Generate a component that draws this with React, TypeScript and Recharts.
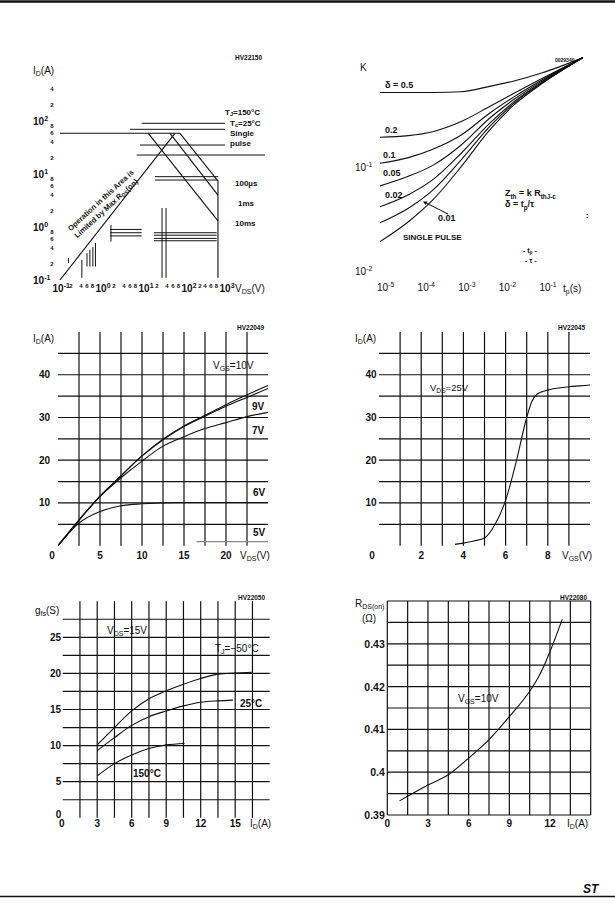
import React from 'react';
import { LineChart, Line, XAxis, YAxis, ReferenceLine } from 'recharts';

const FONT = '"Liberation Sans", Arial, Helvetica, sans-serif';
const INK = '#111';

// ---------- Safe operating area (HV22150), log-log
const soaMajorV = [0.1, 1, 10, 100, 1000];
const soaMinorV = [0.2, 0.4, 0.6, 0.8, 2, 4, 6, 8, 20, 40, 60, 80, 200, 400, 600, 800];
const soaMajorI = [0.1, 1, 10, 100];
const soaMinorI = [0.2, 0.4, 0.6, 0.8, 2, 4, 6, 8, 20, 40, 60, 80, 200, 400];
const soaIdmLine = [{ v: 0.127, i: 58.6 }, { v: 78.5, i: 58.6 }];
const soaRdsLine = [{ v: 0.127, i: 0.1 }, { v: 60, i: 58.6 }];
const soa100us = [{ v: 78.5, i: 58.6 }, { v: 600, i: 7.4 }, { v: 600, i: 0.11 }];
const soa1ms = [{ v: 46, i: 58.6 }, { v: 600, i: 4.0 }];
const soa10ms = [{ v: 14.4, i: 58.6 }, { v: 600, i: 1.3 }];
// broken grid pieces left over in the scan: [v1, v2, i] and [v, i1, i2]
const soaStubsH = [
  [10.1, 875, 90.5], [5.4, 875, 69.7], [9.2, 875, 35.2], [7.7, 7450, 22.8],
  [20.6, 611, 8.9], [20.6, 611, 7.7],
  [19.5, 560, 0.78], [19.5, 560, 0.7], [19.5, 560, 0.61], [19.5, 560, 0.55],
  [1.85, 10.1, 0.9], [1.85, 10.1, 0.78], [1.85, 10.1, 0.68],
];
const soaStubsV = [
  [30, 0.11, 2.28], [37.2, 0.11, 2.28], [1.95, 0.53, 1.09],
  [0.2, 0.21, 0.26], [0.41, 0.11, 0.24], [0.54, 0.18, 0.32], [0.63, 0.18, 0.37],
  [0.74, 0.18, 0.42], [0.85, 0.18, 0.5],
];

// ---------- Thermal impedance (K vs tp)
const zthTime = [1e-5, 5e-5, 2e-4, 1e-3, 5e-3, 2e-2, 0.1, 1];
const zthK05 = [0.54, 0.54, 0.54, 0.55, 0.62, 0.7, 0.84, 1.18];
const zthK02 = [0.199, 0.206, 0.225, 0.282, 0.395, 0.531, 0.742, 1.18];
const zthK01 = [0.111, 0.126, 0.152, 0.209, 0.34, 0.49, 0.718, 1.18];
const zthK005 = [0.067, 0.083, 0.106, 0.167, 0.304, 0.464, 0.7, 1.18];
const zthK002 = [0.042, 0.055, 0.077, 0.139, 0.271, 0.44, 0.683, 1.18];
const zthK001 = [0.0294, 0.0407, 0.061, 0.12, 0.252, 0.425, 0.673, 1.18];
const zthKsingle = [0.0193, 0.0301, 0.049, 0.103, 0.233, 0.409, 0.664, 1.18];

// ---------- Output characteristics (HV22049)
const outVds = [0, 2.5, 5, 7.5, 10, 12.5, 15, 17.5, 20, 22.5, 25];
const outId10 = [0, 6.0, 11.6, 16.4, 21.0, 24.9, 28.0, 30.5, 33.0, 35.3, 37.5];
const outId9 = [0, 6.0, 11.6, 16.3, 21.0, 24.8, 27.9, 30.3, 32.6, 34.7, 36.8];
const outId7 = [0, 6.0, 11.5, 15.9, 19.8, 23.3, 25.5, 27.4, 28.8, 30.2, 31.2];
const outId6 = [0, 5.3, 8.0, 9.35, 9.8, 10.0, 10.1, 10.1, 10.1, 10.1, 10.1];
const outVds5 = [16.5, 25];
const outId5 = [0.95, 0.95];
const outGridX = [2.5, 5, 7.5, 10, 12.5, 15, 17.5, 20, 22.5];
const outGridY = [5, 10, 15, 20, 25, 30, 35, 40, 45];

// ---------- Transfer characteristics (HV22045)
const trVgs = [3.6, 4, 4.5, 5, 5.5, 6, 6.5, 7, 7.25, 7.5, 8, 8.5, 9, 9.5, 10];
const trId = [0.3, 0.6, 1.1, 1.8, 5.0, 10.6, 19.6, 30.0, 33.8, 35.5, 36.4, 36.9, 37.2, 37.4, 37.6];
const trGridX = [1, 2, 3, 4, 5, 6, 7, 8, 9];
const trGridY = [5, 10, 15, 20, 25, 30, 35, 40, 45];

// ---------- Transconductance (HV22050)
const gfsIdM50 = [3, 4.5, 6, 7.5, 9, 10.5, 12, 13.5, 15, 16.5];
const gfsM50 = [10.1, 12.5, 14.8, 16.5, 17.6, 18.5, 19.3, 19.9, 20.05, 20.15];
const gfsId25 = [3, 4.5, 6, 7.5, 9, 10.5, 12, 13.5, 14.8];
const gfs25 = [9.3, 11.1, 12.8, 14.0, 14.8, 15.5, 16.0, 16.2, 16.3];
const gfsId150 = [3, 4.5, 6, 7.5, 9, 10.6];
const gfs150 = [5.8, 7.5, 8.7, 9.6, 10.1, 10.3];
const gfsGridX = [1.5, 3, 4.5, 6, 7.5, 9, 10.5, 12, 13.5, 15, 16.5];
const gfsGridY = [2.5, 5, 7.5, 10, 12.5, 15, 17.5, 20, 22.5, 25, 27.5];

// ---------- Static drain-source on resistance (HV22080)
const rdsId = [0.9, 3, 4.5, 6, 7.5, 9, 10.5, 11.25, 12, 12.9];
const rdsOhm = [0.3933, 0.397, 0.3994, 0.4033, 0.4076, 0.413, 0.4189, 0.4228, 0.4282, 0.4357];
const rdsGridX = [0, 1.5, 3, 4.5, 6, 7.5, 9, 10.5, 12, 13.5, 15];
const rdsGridY = [0.39, 0.395, 0.4, 0.405, 0.41, 0.415, 0.42, 0.425, 0.43, 0.435, 0.44];

const pts = (xs: number[], ys: number[]) => xs.map((x, k) => ({ x, y: ys[k] }));

const axisCommon = {
  axisLine: false,
  tickLine: false,
  tickSize: 0,
  tickMargin: 0,
  interval: 0 as const,
  allowDataOverflow: true,
};

const numTick =
  (dx: number, dy: number, anchor: 'start' | 'middle' | 'end', size = 10, shift: Record<string, [number, number]> = {}) =>
  (p: any) => {
    const v = p.payload.value;
    const s = shift[String(v)] || [0, 0];
    return (
      <text x={p.x + dx + s[0]} y={p.y + dy + s[1]} textAnchor={anchor} fontSize={size} fontWeight="bold" fontFamily={FONT} fill={INK}>
        {v}
      </text>
    );
  };

const decade = (v: number) => {
  const e = Math.floor(Math.log10(v) + 1e-9);
  return { e, lead: Math.round(v / Math.pow(10, e)) };
};

const SoaTickX = (p: any) => {
  const { e, lead } = decade(p.payload.value);
  if (lead === 1) {
    const dx = e === 3 ? -8 : -3;
    return (
      <text x={p.x + dx} y={p.y + 12} fontSize={10} fontWeight="bold" fontFamily={FONT} fill={INK}>
        10<tspan dy={-4} fontSize={7}>{e}</tspan>
      </text>
    );
  }
  // the printed minor digits sit a little left of their log positions
  let dx = lead === 2 ? 2.5 : lead === 4 ? -0.5 : -2;
  if (e === 2 && lead > 2) dx -= 5;
  return (
    <text x={p.x + dx} y={p.y + 7.5} fontSize={6} fontWeight="bold" textAnchor="middle" fontFamily={FONT} fill={INK}>
      {lead}
    </text>
  );
};

const SoaTickY = (p: any) => {
  const { e, lead } = decade(p.payload.value);
  if (lead === 1) {
    return (
      <text x={p.x - 22.5} y={p.y + 3.5} fontSize={10} fontWeight="bold" fontFamily={FONT} fill={INK}>
        10<tspan dy={-4} fontSize={7}>{e}</tspan>
      </text>
    );
  }
  return (
    <text x={p.x - 3.5} y={p.y + 2} fontSize={6} fontWeight="bold" textAnchor="middle" fontFamily={FONT} fill={INK}>
      {lead}
    </text>
  );
};

const ZthTickX = (p: any) => {
  const { e } = decade(p.payload.value);
  if (e >= 0) return <g />;
  return (
    <text x={p.x - 3} y={p.y + 20} fontSize={10} fontFamily={FONT} fill={INK}>
      10<tspan dy={-4} fontSize={7}>{e}</tspan>
    </text>
  );
};

const ZthTickY = (p: any) => {
  const { e } = decade(p.payload.value);
  return (
    <text x={p.x - 25} y={p.y + 3.5} fontSize={10} fontFamily={FONT} fill={INK}>
      10<tspan dy={-4} fontSize={7}>{e}</tspan>
    </text>
  );
};

const curve = (data: { x: number; y: number }[], key: string, type: 'monotone' | 'linear' = 'monotone', color = INK) => (
  <Line
    key={key}
    data={data}
    dataKey="y"
    type={type}
    stroke={color}
    strokeWidth={1.1}
    dot={false}
    isAnimationActive={false}
  />
);

const grid = (xs: number[], ys: number[]) => [
  ...xs.map((v) => <ReferenceLine key={'gx' + v} x={v} stroke={INK} strokeWidth={1.2} />),
  ...ys.map((v) => <ReferenceLine key={'gy' + v} y={v} stroke={INK} strokeWidth={1.2} />),
];

function SoaChart() {
  const toXY = (a: { v: number; i: number }[]) => a.map((d) => ({ x: d.v, y: d.i }));
  return (
    <LineChart width={300} height={250} margin={{ top: 18, right: 29.5, bottom: 0, left: 0 }}>
      <XAxis dataKey="x" type="number" scale="log" domain={[0.1, 10000]} ticks={[...soaMajorV, ...soaMinorV].sort((a, b) => a - b)} height={20} tick={SoaTickX} {...axisCommon} />
      <YAxis type="number" scale="log" domain={[0.1, 1000]} ticks={[...soaMajorI, ...soaMinorI].sort((a, b) => a - b)} width={55.5} tick={SoaTickY} {...axisCommon} />
      {soaStubsH.map(([v1, v2, i], k) => (
        <ReferenceLine key={'sh' + k} segment={[{ x: v1, y: i }, { x: v2, y: i }]} stroke={INK} strokeWidth={1} />
      ))}
      {soaStubsV.map(([v, i1, i2], k) => (
        <ReferenceLine key={'sv' + k} segment={[{ x: v, y: i1 }, { x: v, y: i2 }]} stroke={INK} strokeWidth={1} />
      ))}
      {curve(toXY(soaIdmLine), 'idm', 'linear')}
      {curve(toXY(soaRdsLine), 'rds', 'linear')}
      {curve(toXY(soa100us), 'p100', 'linear')}
      {curve(toXY(soa1ms), 'p1m', 'linear')}
      {curve(toXY(soa10ms), 'p10m', 'linear')}
    </LineChart>
  );
}

function ZthChart() {
  return (
    <LineChart width={315} height={250} margin={{ top: 6.8, right: 32, bottom: 0, left: 0 }}>
      <XAxis dataKey="x" type="number" scale="log" domain={[1e-5, 1]} ticks={[1e-5, 1e-4, 1e-3, 1e-2, 1e-1, 1]} height={29} tick={ZthTickX} {...axisCommon} />
      <YAxis type="number" scale="log" domain={[0.01, 1.2]} ticks={[0.01, 0.1]} width={80} tick={ZthTickY} {...axisCommon} />
      {curve(pts(zthTime, zthK05), 'k05')}
      {curve(pts(zthTime, zthK02), 'k02')}
      {curve(pts(zthTime, zthK01), 'k01')}
      {curve(pts(zthTime, zthK005), 'k005')}
      {curve(pts(zthTime, zthK002), 'k002')}
      {curve(pts(zthTime, zthK001), 'k001')}
      {curve(pts(zthTime, zthKsingle), 'ks')}
    </LineChart>
  );
}

function OutputChart() {
  return (
    <LineChart width={300} height={250} margin={{ top: 12, right: 32, bottom: 0, left: 0 }}>
      <XAxis dataKey="x" type="number" domain={[0, 25]} ticks={[0, 5, 10, 15, 20]} height={24.3} tick={numTick(0, 13, 'middle', 10, { '0': [-6, 0] })} {...axisCommon} />
      <YAxis type="number" domain={[0, 50]} ticks={[10, 20, 30, 40]} width={58} tick={numTick(-8, 3.5, 'end')} {...axisCommon} />
      {grid(outGridX, outGridY)}
      {curve(pts(outVds, outId10), 'v10')}
      {curve(pts(outVds, outId9), 'v9')}
      {curve(pts(outVds, outId7), 'v7')}
      {curve(pts(outVds, outId6), 'v6')}
      {curve(pts(outVds5, outId5), 'v5', 'linear', '#888')}
    </LineChart>
  );
}

function TransferChart() {
  return (
    <LineChart width={315} height={250} margin={{ top: 12, right: 25, bottom: 0, left: 0 }}>
      <XAxis dataKey="x" type="number" domain={[0, 10]} ticks={[0, 2, 4, 6, 8]} height={24.3} tick={numTick(0, 13, 'middle', 10, { '0': [-7, 0] })} {...axisCommon} />
      <YAxis type="number" domain={[0, 50]} ticks={[10, 20, 30, 40]} width={79} tick={numTick(-2.5, 3.5, 'end')} {...axisCommon} />
      {grid(trGridX, trGridY)}
      {curve(pts(trVgs, trId), 'tr')}
    </LineChart>
  );
}

function GfsChart() {
  return (
    <LineChart width={300} height={250} margin={{ top: 16.2, right: 30.3, bottom: 0, left: 0 }}>
      <XAxis dataKey="x" type="number" domain={[0, 18]} ticks={[0, 3, 6, 9, 12, 15]} height={17.2} tick={numTick(0, 9, 'middle', 10, { '0': [-1, 0] })} {...axisCommon} />
      <YAxis type="number" domain={[0, 30]} ticks={[0, 5, 10, 15, 20, 25]} width={62.7} tick={numTick(-1.5, 3.5, 'end', 10, { '0': [0, -3] })} {...axisCommon} />
      {grid(gfsGridX, gfsGridY)}
      {curve(pts(gfsIdM50, gfsM50), 'm50')}
      {curve(pts(gfsId25, gfs25), 't25')}
      {curve(pts(gfsId150, gfs150), 't150')}
    </LineChart>
  );
}

function RdsChart() {
  return (
    <LineChart width={315} height={250} margin={{ top: 16, right: 24.3, bottom: 0, left: 0 }}>
      <XAxis dataKey="x" type="number" domain={[0, 15]} ticks={[0, 3, 6, 9, 12]} height={20} tick={numTick(0, 12, 'middle')} {...axisCommon} />
      <YAxis type="number" domain={[0.39, 0.44]} ticks={[0.39, 0.4, 0.41, 0.42, 0.43]} width={87.3} tick={numTick(-2.5, 4, 'end', 10.5)} {...axisCommon} />
      {grid(rdsGridX, rdsGridY)}
      {curve(pts(rdsId, rdsOhm), 'rds')}
    </LineChart>
  );
}

// "V_{DS}(V)" -> tspans with a lowered, smaller subscript
const T = ({ x, y, s = 10, w = 'bold', a = 'start', t }: any) => {
  const parts = String(t).split(/_\{([^}]*)\}/);
  const d = s * 0.28;
  const out: React.ReactNode[] = [];
  let low = false;
  parts.forEach((txt, k) => {
    if (!txt) return;
    const isSub = k % 2 === 1;
    let dy = 0;
    if (isSub && !low) { dy = d; low = true; }
    else if (!isSub && low) { dy = -d; low = false; }
    out.push(
      <tspan key={k} dy={dy} fontSize={isSub ? s * 0.7 : s}>{txt}</tspan>
    );
  });
  return (
    <text x={x} y={y} fontSize={s} fontWeight={w} textAnchor={a} fontFamily={FONT} fill={INK} dominantBaseline="central">
      {out}
    </text>
  );
};

function Notes() {
  return (
    <svg width={615} height={908} style={{ position: 'absolute', left: 0, top: 0, pointerEvents: 'none' }}>
      <line x1={0} y1={1.5} x2={615} y2={1.5} stroke={INK} strokeWidth={2.5} />
      <line x1={0} y1={896.5} x2={615} y2={896.5} stroke={INK} strokeWidth={1.5} />
      <text x={583} y={893} fontSize={12} fontWeight="bold" fontStyle="italic" fontFamily={FONT} fill={INK}>ST</text>

      {/* SOA */}
      <T x={235} y={57} s={6.5} t="HV22150" />
      <T x={33} y={70} w="normal" t="I_{D}(A)" />
      <T x={225} y={112} s={8} t="T_{J}=150°C" />
      <T x={230} y={123} s={8} t="T_{c}=25°C" />
      <T x={230} y={133} s={8} t="Single" />
      <T x={230} y={143} s={8} t="pulse" />
      <T x={235} y={183} s={8} t="100µs" />
      <T x={238} y={203} s={8} t="1ms" />
      <T x={235} y={223} s={8} t="10ms" />
      <T x={235} y={288} w="normal" t="V_{DS}(V)" />
      <g transform="translate(100.5 200) rotate(-42.5)">
        <T x={0} y={0} s={7.5} a="middle" t="Operation in this Area is" />
      </g>
      <g transform="translate(106 208) rotate(-42.5)">
        <T x={0} y={0} s={7.5} a="middle" t="Limited by Max R_{DS}(on)" />
      </g>

      {/* Zth */}
      <T x={360} y={67} w="normal" t="K" />
      <T x={555} y={60} s={5} t="0029340" />
      <T x={385} y={85} s={9} t="δ = 0.5" />
      <T x={385} y={130} s={9} t="0.2" />
      <T x={383} y={155} s={9} t="0.1" />
      <T x={383} y={173} s={9} t="0.05" />
      <T x={385} y={195} s={9} t="0.02" />
      <T x={438} y={218} s={9} t="0.01" />
      <line x1={448} y1={214} x2={425.5} y2={202.7} stroke={INK} strokeWidth={1} />
      <polygon points="423,201.5 427.5,201.5 425.7,205.1" fill={INK} />
      <T x={403} y={237} s={8} t="SINGLE PULSE" />
      <T x={505} y={193} s={9} t="Z_{th} = k R_{thJ-c}" />
      <T x={505} y={204} s={9} t="δ = t_{p}/τ" />
      <T x={523} y={250} s={7} t="- t_{p} -" />
      <T x={525} y={260} s={7} t="- τ -" />
      <T x={586} y={215} s={7} t=":" />
      <T x={563} y={288} w="normal" t="t_{p}(s)" />

      {/* Output */}
      <T x={237} y={327} s={6.5} t="HV22049" />
      <T x={33} y={338} w="normal" t="I_{D}(A)" />
      <T x={213} y={365} w="normal" t="V_{GS}=10V" />
      <T x={252} y={406} t="9V" />
      <T x={252} y={430} t="7V" />
      <T x={253} y={492} t="6V" />
      <T x={253} y={532} t="5V" />
      <T x={240} y={555} w="normal" t="V_{DS}(V)" />

      {/* Transfer */}
      <T x={558} y={327} s={6.5} t="HV22045" />
      <T x={355} y={338} w="normal" t="I_{D}(A)" />
      <T x={430} y={387} s={9.5} w="normal" t="V_{DS}=25V" />
      <T x={562} y={555} w="normal" t="V_{GS}(V)" />

      {/* gfs */}
      <T x={238} y={597} s={6.5} t="HV22050" />
      <T x={35} y={610} w="normal" t="g_{fs}(S)" />
      <T x={107} y={630} w="normal" t="V_{DS}=15V" />
      <T x={215} y={648} w="normal" t="T_{J}=−50°C" />
      <T x={240} y={703} t="25°C" />
      <T x={133} y={773} t="150°C" />
      <T x={250} y={823} w="normal" t="I_{D}(A)" />

      {/* Rds(on) */}
      <T x={560} y={597} s={6.5} t="HV22080" />
      <T x={355} y={603} w="normal" t="R_{DS(on)}" />
      <T x={362} y={618} w="normal" t="(Ω)" />
      <T x={458} y={698} w="normal" t="V_{GS}=10V" />
      <T x={567} y={823} w="normal" t="I_{D}(A)" />
    </svg>
  );
}

export default function App() {
  return (
    <div style={{ position: 'absolute', left: 0, top: 0, width: 615, height: 908, background: '#fff', fontFamily: FONT }}>
      <div style={{ position: 'absolute', left: 0, top: 50 }}><SoaChart /></div>
      <div style={{ position: 'absolute', left: 300, top: 50 }}><ZthChart /></div>
      <div style={{ position: 'absolute', left: 0, top: 320 }}><OutputChart /></div>
      <div style={{ position: 'absolute', left: 300, top: 320 }}><TransferChart /></div>
      <div style={{ position: 'absolute', left: 0, top: 585 }}><GfsChart /></div>
      <div style={{ position: 'absolute', left: 300, top: 585 }}><RdsChart /></div>
      <Notes />
    </div>
  );
}
